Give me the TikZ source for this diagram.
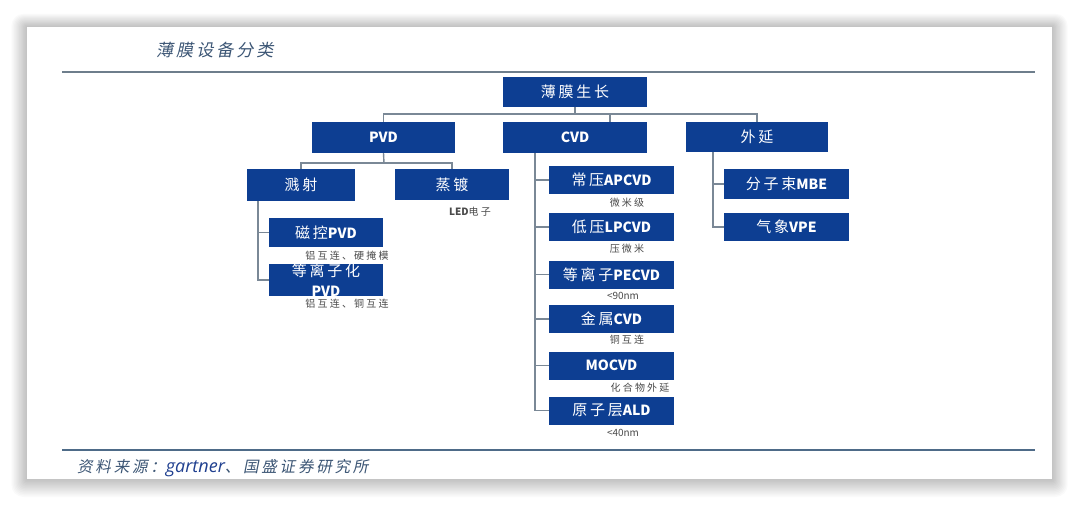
\documentclass[tikz,border=0pt]{standalone}
\usepackage{fontspec}
\setmainfont{Noto Sans CJK SC}
\newfontfamily\cjkit[FakeSlant=0.2,LetterSpace=18]{Noto Sans CJK SC}
\newfontfamily\bcfam[LetterSpace=18]{Noto Sans CJK SC}
\newcommand\bc{\bcfam\mdseries\fontsize{15}{20}\selectfont}
\newfontfamily\nc[LetterSpace=22]{Noto Sans CJK SC}
\newfontfamily\gfont{Open Sans}
\definecolor{boxblue}{HTML}{0D3E92}
\definecolor{linegray}{HTML}{7A8896}
\definecolor{rulegray}{HTML}{6E7E8C}
\definecolor{rulebot}{HTML}{4E6B88}
\definecolor{titlec}{HTML}{3C5675}
\definecolor{annot}{HTML}{4A4A4A}
\definecolor{gblue}{HTML}{1F3F8F}
\tikzset{
  box/.style={fill=boxblue, text=white, inner sep=0pt, align=center, font=\bfseries\fontsize{14}{20}\selectfont},
  conn/.style={draw=linegray, line width=1.4pt},
  note/.style={text=annot, inner sep=0pt, font=\nc\fontsize{10}{11}\selectfont},
}
\begin{document}
\begin{tikzpicture}[x=1pt,y=-1pt]
\useasboundingbox (0,0) rectangle (1080,507);
\fill[white] (0,0) rectangle (1080,507);
\foreach \i in {1,...,12}
  \fill[black,opacity=0.02,rounded corners=\i pt] (27-\i*1.3,27-\i*1.1) rectangle (1052+\i*1.3,479+\i*1.5);
\fill[white] (27,27) rectangle (1052,479);
% rules and texts
\draw[rulegray, line width=1.5pt] (62,72) -- (1035,72);
\draw[rulebot, line width=1.5pt] (62,450) -- (1035,450);
\node[anchor=west, text=titlec, inner sep=0pt, font=\cjkit\fontsize{17}{19}\selectfont] (title) at (156,50) {薄膜设备分类};
\node[anchor=west, text=titlec, inner sep=0pt, font=\cjkit\fontsize{15.5}{18}\selectfont] (src) at (77,468) {资料来源：{\gfont\itshape\fontsize{18}{18}\selectfont\color{gblue}gartner}、国盛证券研究所};
% boxes
\node[box, minimum width=144, minimum height=30] (root) at (575,92) {\bc 薄膜生长};
\node[box, minimum width=143, minimum height=31] (pvd) at (383.5,137.5) {PVD};
\node[box, minimum width=144, minimum height=31] (cvd) at (575,137.5) {CVD};
\node[box, minimum width=142, minimum height=30] (wy) at (757,137) {\bc 外延};
\node[box, minimum width=108, minimum height=32] (js) at (301,185) {\bc 溅射};
\node[box, minimum width=114, minimum height=31] (zd) at (452,184.5) {\bc 蒸镀};
\node[box, minimum width=114, minimum height=29] (ck) at (326,232.5) {{\bc 磁控}PVD};
\node[box, minimum width=114, minimum height=30] (dlz) at (326,280) {{\bc 等离子化}\\PVD};
\node[box, minimum width=125, minimum height=28] (ap) at (611.5,180) {{\bc 常压}APCVD};
\node[box, minimum width=125, minimum height=28] (lp) at (611.5,227) {{\bc 低压}LPCVD};
\node[box, minimum width=125, minimum height=28] (pe) at (611.5,274.5) {{\bc 等离子}PECVD};
\node[box, minimum width=125, minimum height=28] (mc) at (611.5,319) {{\bc 金属}CVD};
\node[box, minimum width=125, minimum height=28] (mo) at (611.5,365.5) {MOCVD};
\node[box, minimum width=125, minimum height=28] (ald) at (611.5,410.5) {{\bc 原子层}ALD};
\node[box, minimum width=125, minimum height=30] (mbe) at (786.5,184) {{\bc 分子束}MBE};
\node[box, minimum width=125, minimum height=28] (vpe) at (786.5,227) {{\bc 气象}VPE};
% notes
\node[note] (n1) at (470,212) {{\rmfamily\bfseries LED}电子};
\node[note] (n2) at (347,256) {铝互连、硬掩模};
\node[note] (n3) at (347,304) {铝互连、铜互连};
\node[note] (n4) at (627,203) {微米级};
\node[note] (n5) at (627,249) {压微米};
\node[note] (n6) at (623,296) {{\rmfamily <90nm}};
\node[note] (n7) at (627,340) {铜互连};
\node[note] (n8) at (640,388) {化合物外延};
\node[note] (n9) at (623,433) {{\rmfamily <40nm}};
% connectors
\coordinate (j0) at (575,114);
\coordinate (jc) at (610,114);
\draw[conn] (root.south) -- (j0);
\draw[conn] (pvd.north) |- (wy.north |- j0) -- (wy.north);
\draw[conn] (jc) -- (jc |- cvd.north);
\coordinate (j1) at (384,163);
\draw[conn] (pvd.south) -- (j1);
\draw[conn] (js.north) |- (zd.north |- j1) -- (zd.north);
\coordinate (s1) at ([xshift=11pt]js.south west);
\draw[conn] (s1) |- (ck.west);
\draw[conn] (s1) |- (dlz.west);
\coordinate (c1) at ([xshift=32pt]cvd.south west);
\foreach \n in {ap,lp,pe,mc,mo,ald} \draw[conn] (c1) |- (\n.west);
\coordinate (w1) at ([xshift=27pt]wy.south west);
\draw[conn] (w1) |- (mbe.west);
\draw[conn] (w1) |- (vpe.west);
\end{tikzpicture}
\end{document}
